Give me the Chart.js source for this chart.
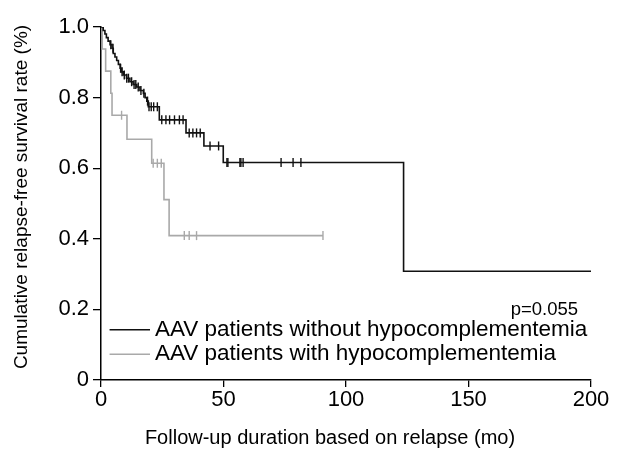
<!DOCTYPE html>
<html>
<head>
<meta charset="utf-8">
<script src="https://cdn.jsdelivr.net/npm/chart.js@4.4.1/dist/chart.umd.min.js"></script>
<style>
  html, body { margin: 0; padding: 0; background: #fff; }
  #wrap { width: 619px; height: 450px; }
</style>
</head>
<body>
<div id="wrap"><canvas id="km"></canvas></div>
<script>
// Kaplan-Meier steps (months, survival after the step)
var noHypoTimes = [0.9, 1.6, 2.2, 2.9, 3.7, 4.5, 5.0, 5.7, 6.4, 7.1, 7.8, 8.4, 9.1, 10.4, 11.8, 13.1, 14.6, 15.9, 17.3, 18.0, 18.7, 19.3, 23.8, 34.7, 42.0, 49.9, 123.5];
var noHypoSurv = [0.99, 0.98, 0.97, 0.96, 0.95, 0.94, 0.925, 0.915, 0.905, 0.894, 0.883, 0.873, 0.864, 0.855, 0.845, 0.837, 0.83, 0.82, 0.812, 0.80, 0.79, 0.774, 0.737, 0.70, 0.663, 0.616, 0.308];
var noHypoCensor = [4.0, 4.9, 8.0, 8.6, 9.5, 10.5, 11.2, 12.5, 13.5, 14.2, 15.2, 16.3, 17.5, 19.0, 19.6, 20.5, 21.5, 23.0, 24.8, 26.5, 28, 30, 32, 33.5, 36, 37.5, 39, 40.5, 44.5, 48, 51.4, 51.8, 56.7, 57.1, 58, 73.5, 78.4, 81.6];
var noHypoEnd = 200;

var hypoTimes = [0.5, 1.9, 4.0, 4.5, 10.6, 20.7, 25.7, 27.8];
var hypoSurv = [0.9375, 0.875, 0.8125, 0.75, 0.682, 0.614, 0.511, 0.409];
var hypoCensor = [8.4, 21.3, 23, 24.6, 34, 36, 39, 90.6];
var hypoEnd = 90.6;

var xTicks = [0, 50, 100, 150, 200];
var yTicks = [0, 0.2, 0.4, 0.6, 0.8, 1.0];

var labelNoHypo = "AAV patients without hypocomplementemia";
var labelHypo = "AAV patients with hypocomplementemia";
var pValue = "p=0.055";
var xTitle = "Follow-up duration based on relapse (mo)";
var yTitle = "Cumulative relapse-free survival rate (%)";

var FONT = "'Liberation Sans', Arial, Helvetica, sans-serif";
var BLACK = "#111";
var GRAY = "#a9a9a9";

function survAt(times, surv, t) {
    var s = 1;
    for (var i = 0; i < times.length; i++) {
        if (times[i] <= t) s = surv[i];
    }
    return s;
}

function stepPoints(times, surv, end) {
    var pts = [{ x: 0, y: 1 }];
    for (var i = 0; i < times.length; i++) {
        pts.push({ x: times[i], y: surv[i] });
    }
    pts.push({ x: end, y: surv[surv.length - 1] });
    return pts;
}

function censorPoints(times, surv, censor) {
    return censor.map(function (t) {
        return { x: t, y: survAt(times, surv, t) };
    });
}

// legend, p value and axis titles
var annotations = {
    id: "annotations",
    afterDraw: function (chart) {
        var ctx = chart.ctx;
        var xs = chart.scales.x, ys = chart.scales.y;
        ctx.save();
        ctx.fillStyle = "#000";
        ctx.textBaseline = "middle";

        ctx.font = "18.5px " + FONT;
        ctx.textAlign = "right";
        ctx.fillText(pValue, xs.getPixelForValue(194.7), ys.getPixelForValue(0.198));

        ctx.font = "22.5px " + FONT;
        var rows = [[labelNoHypo, BLACK, 0.142], [labelHypo, GRAY, 0.073]];
        rows.forEach(function (r) {
            var y = ys.getPixelForValue(r[2]);
            ctx.strokeStyle = r[1];
            ctx.lineWidth = 1.5;
            ctx.beginPath();
            ctx.moveTo(xs.getPixelForValue(3.5), y);
            ctx.lineTo(xs.getPixelForValue(20), y);
            ctx.stroke();
            ctx.textAlign = "left";
            ctx.fillText(r[0], xs.getPixelForValue(22), y);
        });

        ctx.font = "20px " + FONT;
        ctx.textAlign = "center";
        ctx.fillText(xTitle, 330, 438);

        ctx.font = "19px " + FONT;
        ctx.translate(22, 197);
        ctx.rotate(-Math.PI / 2);
        ctx.fillText(yTitle, 0, 0);
        ctx.restore();
    }
};

var ctxKm = document.getElementById("km").getContext("2d");

var chartKm = new Chart(ctxKm, {
    type: "line",
    data: {
        datasets: [
            {
                label: labelNoHypo,
                data: stepPoints(noHypoTimes, noHypoSurv, noHypoEnd),
                borderColor: BLACK,
                borderWidth: 1.6,
                stepped: "before",
                pointRadius: 0,
                fill: false,
                order: 1
            },
            {
                type: "scatter",
                data: censorPoints(noHypoTimes, noHypoSurv, noHypoCensor),
                pointStyle: "line",
                rotation: 90,
                pointRadius: 4.5,
                borderColor: BLACK,
                borderWidth: 1.4,
                showLine: false,
                order: 1
            },
            {
                label: labelHypo,
                data: stepPoints(hypoTimes, hypoSurv, hypoEnd),
                borderColor: GRAY,
                borderWidth: 1.6,
                stepped: "before",
                pointRadius: 0,
                fill: false,
                order: 2
            },
            {
                type: "scatter",
                data: censorPoints(hypoTimes, hypoSurv, hypoCensor),
                pointStyle: "line",
                rotation: 90,
                pointRadius: 4.5,
                borderColor: GRAY,
                borderWidth: 1.4,
                showLine: false,
                order: 2
            }
        ]
    },
    options: {
        responsive: true,
        maintainAspectRatio: false,
        animation: false,
        layout: { padding: { left: 0, right: 28, top: 27, bottom: 0 } },
        plugins: {
            legend: { display: false },
            tooltip: { enabled: false }
        },
        scales: {
            x: {
                type: "linear",
                min: 0,
                max: 200,
                afterBuildTicks: function (scale) {
                    scale.ticks = xTicks.map(function (v) { return { value: v }; });
                },
                afterFit: function (scale) { scale.height = 70; },
                ticks: {
                    color: "#000",
                    font: { family: FONT, size: 22 },
                    padding: 0,
                    maxRotation: 0
                },
                grid: {
                    display: true,
                    drawOnChartArea: false,
                    drawTicks: true,
                    tickLength: 7,
                    color: "#000",
                    lineWidth: 1.3
                },
                border: { display: true, color: "#000", width: 1.5 }
            },
            y: {
                type: "linear",
                min: 0,
                max: 1,
                afterBuildTicks: function (scale) {
                    scale.ticks = yTicks.map(function (v) { return { value: v }; });
                },
                afterFit: function (scale) { scale.width = 101; },
                ticks: {
                    color: "#000",
                    font: { family: FONT, size: 22 },
                    padding: 4,
                    callback: function (v) { return v === 0 ? "0" : v.toFixed(1); }
                },
                grid: {
                    display: true,
                    drawOnChartArea: false,
                    drawTicks: true,
                    tickLength: 8,
                    color: "#000",
                    lineWidth: 1.3
                },
                border: { display: true, color: "#000", width: 1.5 }
            }
        }
    },
    plugins: [annotations]
});
</script>
</body>
</html>
